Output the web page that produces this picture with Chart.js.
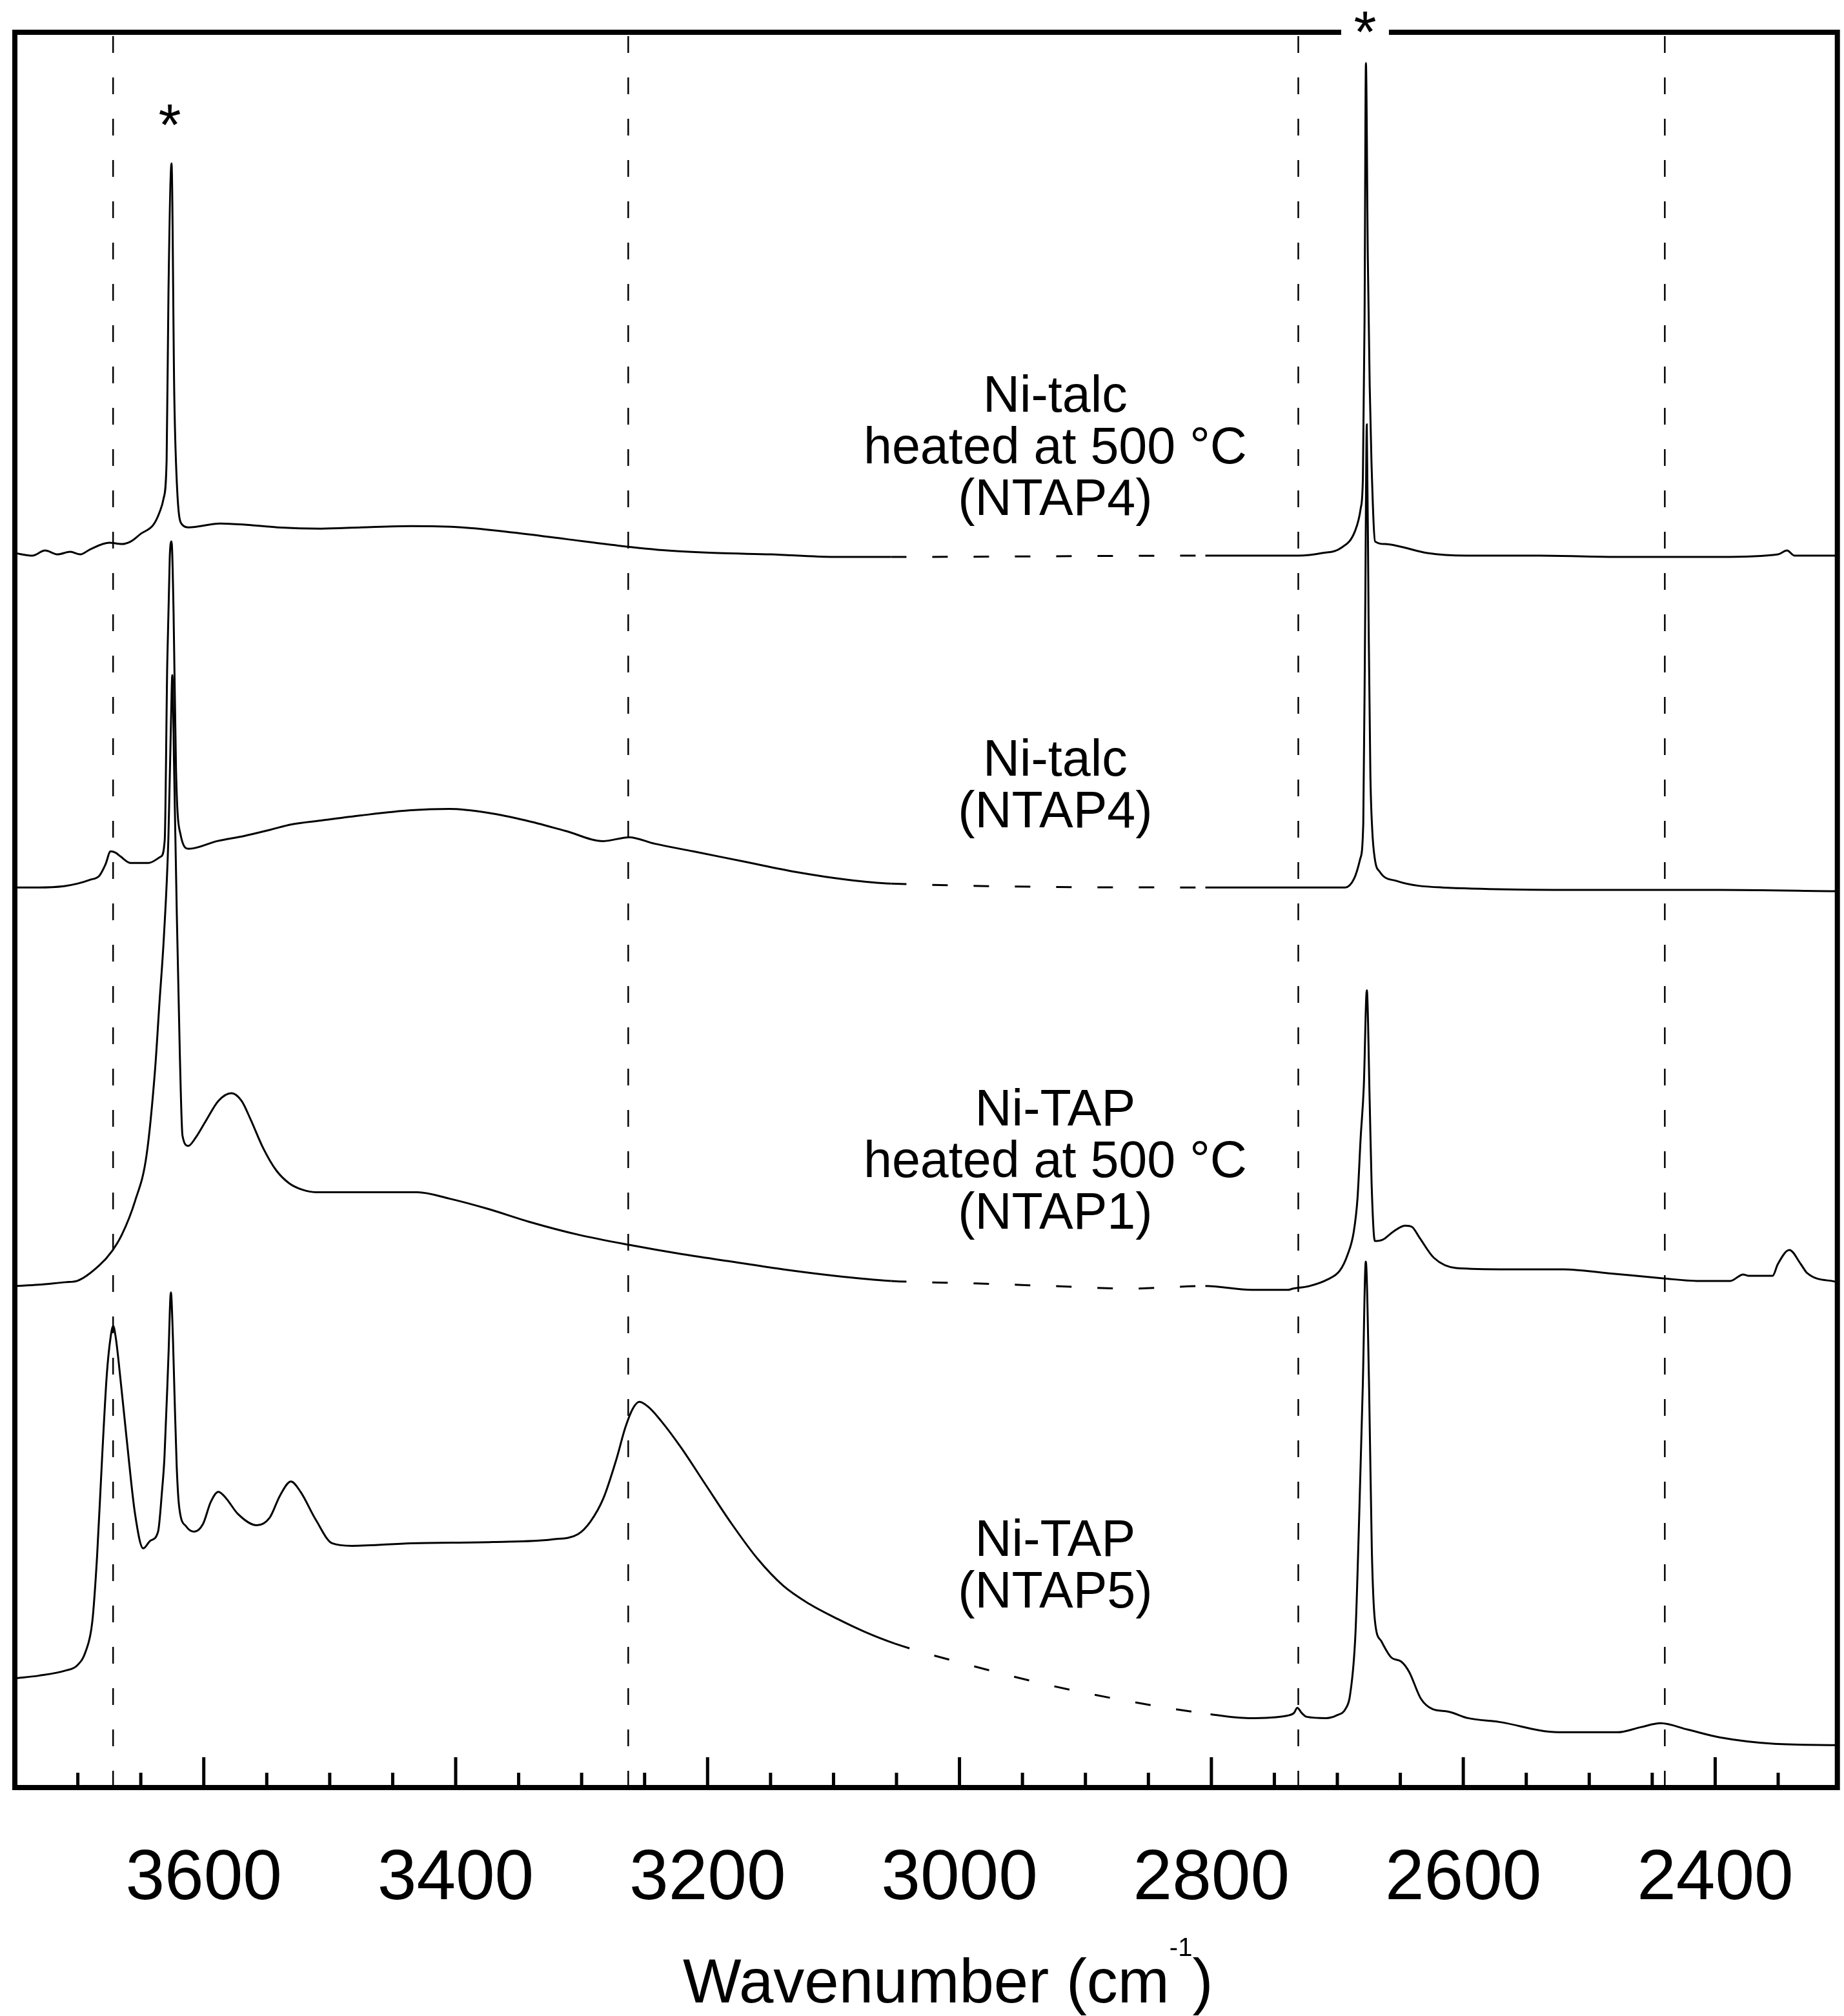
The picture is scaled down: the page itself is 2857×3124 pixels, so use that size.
<!DOCTYPE html>
<html>
<head>
<meta charset="utf-8">
<title>Ni-talc / Ni-TAP spectra</title>
<script src="https://cdn.jsdelivr.net/npm/chart.js@4.4.1/dist/chart.umd.min.js"></script>
<style>
  html, body { margin: 0; padding: 0; background: #fff; }
  canvas { display: block; }
</style>
</head>
<body>
<canvas id="myChart" width="2857" height="3124"></canvas>
<script>
// [wavenumber (cm-1), intensity (a.u., stacked offsets)]
const talcHeated = [
  [3750, 960], [3736, 958], [3726, 962], [3716, 959], [3706, 961], [3698, 959], [3690, 963],
  [3675, 968], [3665, 967], [3658, 969], [3650, 975], [3640, 982], [3635, 992], [3632, 1002],
  [3629.5, 1032], [3628, 1165], [3625.6, 1263], [3623.4, 1082], [3621, 1007], [3617, 982],
  [3612, 980], [3587, 983], [3566, 982], [3541.5, 980], [3507, 979], [3475, 980], [3435.5, 981],
  [3395, 980], [3354, 976], [3313, 971], [3272.5, 966], [3232, 962], [3191, 960], [3150, 959],
  [3099, 957], [3054.4, 957], [2804.8, 958], [2763, 958], [2731, 958], [2712, 960], [2697, 964],
  [2686, 977], [2681.4, 995], [2679.7, 1019], [2678.4, 1140], [2677.3, 1341], [2675.8, 1190],
  [2674.3, 1090], [2672.9, 1031], [2670, 969], [2662, 967], [2650, 965], [2628.5, 960],
  [2597.4, 958], [2539, 958], [2478, 957], [2396, 957], [2350, 959], [2343, 962], [2337, 958],
  [2303, 958]
];
const talc = [
  [3750, 700], [3731, 700], [3711, 701], [3700, 703], [3690, 706], [3683, 709], [3678, 718],
  [3674, 728], [3670, 727], [3666, 724], [3658, 719], [3644, 719], [3634, 724], [3631, 737],
  [3629, 874], [3627, 957], [3625.6, 969], [3624, 915], [3622, 790], [3618.4, 741], [3611.8, 730],
  [3589.4, 736], [3568, 740], [3546.6, 745], [3530.3, 749], [3507, 752], [3475, 756], [3435.5, 760],
  [3405, 761], [3374.4, 758], [3344, 752], [3313, 744], [3282.7, 736], [3262.3, 739], [3242, 734],
  [3211.3, 728], [3170.6, 720], [3129.8, 712], [3089, 706], [3054.4, 703], [2804.8, 700],
  [2742.6, 700], [2693.7, 700], [2686.6, 707], [2681.9, 722], [2679.4, 750], [2677.9, 910],
  [2676.6, 1060], [2675.2, 910], [2673.8, 790], [2672.3, 745], [2670.2, 722], [2666.2, 712],
  [2652.9, 705], [2617.2, 700], [2488, 698], [2397, 698], [2303, 697]
];
const tapHeated = [
  [3750, 390], [3731, 391], [3709.6, 393], [3700.5, 394], [3683, 406], [3673, 417], [3665, 430],
  [3654.6, 456], [3645.4, 492], [3638.7, 558], [3635.2, 610], [3631.7, 661], [3628.1, 738],
  [3626, 830], [3625, 865], [3623.5, 790], [3621.4, 679], [3619, 570], [3616.9, 507],
  [3612.3, 499], [3606.7, 505], [3598.6, 518], [3588.4, 534], [3578, 540], [3570, 534],
  [3563, 520], [3552.7, 497], [3542.5, 480], [3532.3, 470], [3522, 465], [3510.9, 463],
  [3476.3, 463], [3430.4, 463], [3405, 458], [3374.4, 450], [3341.8, 440], [3303, 430],
  [3262.3, 422], [3221.5, 415], [3180.8, 409], [3140, 403], [3099.2, 398], [3054.4, 394],
  [2987, 392], [2926, 390], [2865, 388], [2804.8, 390], [2768, 387], [2739.5, 387], [2735, 388],
  [2722.2, 390], [2708, 395], [2698, 402], [2692, 414], [2687, 432], [2684, 458],
  [2681.5, 505], [2679, 545], [2676.6, 620], [2674.3, 533], [2672.8, 470], [2670.2, 425],
  [2664.1, 426], [2656, 432], [2646.2, 437], [2640.7, 436], [2635, 428], [2623.4, 412],
  [2605.5, 404], [2564.6, 403], [2520.5, 403], [2485.3, 400], [2441.3, 396], [2414.7, 394],
  [2388, 394], [2377.8, 399], [2373.7, 398], [2354.4, 398], [2350.3, 407], [2341.1, 418],
  [2332, 407], [2326.9, 400], [2303, 393]
];
const tap = [
  [3750, 85], [3731, 87], [3709.6, 91], [3700.5, 95], [3693.7, 106], [3688.5, 129], [3684.7, 180],
  [3680.7, 257], [3677, 321], [3674, 350], [3671.9, 359], [3669.9, 350], [3667.9, 334],
  [3661.1, 270], [3654.6, 213], [3648.1, 186], [3642.4, 192], [3636.3, 199], [3633.2, 230],
  [3631.2, 257], [3628.1, 334], [3626.1, 385], [3624.5, 350], [3623.3, 308], [3621.5, 250],
  [3619.5, 218], [3613.9, 203], [3607.7, 199], [3600.6, 205], [3594.5, 222], [3588.4, 230],
  [3582.3, 225], [3573.1, 213], [3557.8, 204], [3547.6, 210], [3539.5, 227], [3530.8, 238],
  [3523.2, 230], [3510.9, 208], [3498.1, 190], [3482.4, 188], [3435.5, 190], [3370.3, 191],
  [3323.4, 193], [3303, 197], [3292.9, 207], [3282.7, 225], [3272.5, 255],
  [3265.3, 280], [3259.2, 295], [3254.1, 300], [3247, 296], [3236.8, 285], [3221.5, 265],
  [3201.2, 235], [3180.8, 205], [3160.4, 178], [3140, 157], [3119.6, 143], [3096.6, 131],
  [3075, 121], [3051.4, 112], [2987.2, 94], [2926, 79], [2864.9, 67], [2800.7, 57], [2770.5, 54],
  [2739.5, 56], [2734.4, 58], [2731.8, 62], [2728.3, 58], [2724.3, 55], [2709, 54], [2700.8, 56],
  [2693, 62], [2689.9, 72], [2685.6, 120], [2682.5, 216], [2679.8, 312], [2677.4, 409],
  [2674.8, 312], [2672.6, 184], [2670.2, 130], [2665.2, 114], [2657, 101], [2649.3, 98],
  [2643, 90], [2633.6, 69], [2624.4, 61], [2611.6, 59], [2596.3, 54], [2571.4, 51], [2524.5, 43],
  [2477.7, 43], [2458.9, 47], [2443.4, 50], [2421.6, 45], [2396.4, 39], [2352.8, 34], [2303, 33]
];

const markerLines = [3672, 3263, 2731, 2440];
const tickLabels = [3600, 3400, 3200, 3000, 2800, 2600, 2400];
const gapRange = [2800, 3055];          // region without data, joined with a dashed line
const starMarks = [{ x: 3627, y: 1301 }, { x: 2678, y: 1373 }];
const sampleLabels = [
  { lines: ['Ni-talc', 'heated at 500 °C', '(NTAP4)'], x: 2924, y: 1081 },
  { lines: ['Ni-talc', '(NTAP4)'], x: 2924, y: 798 },
  { lines: ['Ni-TAP', 'heated at 500 °C', '(NTAP1)'], x: 2924, y: 526 },
  { lines: ['Ni-TAP', '(NTAP5)'], x: 2924, y: 191 }
];

const FONT = '"Liberation Sans", Arial, Helvetica, sans-serif';
Chart.defaults.font.family = FONT;
Chart.defaults.color = '#000';

const inGap = v => v >= gapRange[0] && v <= gapRange[1];

function spectrum(points) {
  return {
    data: points.map(([x, y]) => ({ x, y })),
    borderColor: '#000',
    borderWidth: 3,
    pointRadius: 0,
    cubicInterpolationMode: 'monotone',
    segment: {
      borderDash: ctx => (inGap(ctx.p0.parsed.x) && inGap(ctx.p1.parsed.x)) ? [24, 40] : undefined
    }
  };
}

const markers = markerLines.map(w => ({
  data: [{ x: w, y: 0 }, { x: w, y: 1365 }],
  borderColor: '#000',
  borderWidth: 2.5,
  borderDash: [26, 38],
  pointRadius: 0
}));

const decor = {
  id: 'decor',
  afterDraw(chart) {
    const { ctx, chartArea: a, scales: { x, y } } = chart;
    ctx.save();
    ctx.strokeStyle = '#000';
    ctx.fillStyle = '#000';

    // inward ticks, major every 200, minor every 50
    ctx.lineWidth = 5;
    for (let v = 2350; v <= 3700; v += 50) {
      const px = x.getPixelForValue(v);
      const len = v % 200 === 0 ? 47 : 23;
      ctx.beginPath();
      ctx.moveTo(px, a.bottom);
      ctx.lineTo(px, a.bottom - len);
      ctx.stroke();
    }

    // frame, opened at the top for the asterisk
    const sx = x.getPixelForValue(starMarks[1].x);
    ctx.lineWidth = 8;
    ctx.beginPath();
    ctx.moveTo(sx - 37, a.top);
    ctx.lineTo(a.left, a.top);
    ctx.lineTo(a.left, a.bottom);
    ctx.lineTo(a.right, a.bottom);
    ctx.lineTo(a.right, a.top);
    ctx.lineTo(sx + 37, a.top);
    ctx.stroke();

    // asterisks
    ctx.font = '90px ' + FONT;
    ctx.textAlign = 'center';
    ctx.textBaseline = 'alphabetic';
    const m = ctx.measureText('*');
    const off = (m.actualBoundingBoxAscent - m.actualBoundingBoxDescent) / 2;
    starMarks.forEach(s => {
      ctx.fillText('*', x.getPixelForValue(s.x), y.getPixelForValue(s.y) + off);
    });

    // sample names
    ctx.font = '79px ' + FONT;
    ctx.textBaseline = 'middle';
    sampleLabels.forEach(l => {
      const px = x.getPixelForValue(l.x);
      const py = y.getPixelForValue(l.y);
      l.lines.forEach((t, i) => ctx.fillText(t, px, py + i * 80));
    });

    // axis title with superscript
    const main = 'Wavenumber (cm';
    ctx.textAlign = 'left';
    ctx.textBaseline = 'alphabetic';
    ctx.font = '96px ' + FONT;
    const mw = ctx.measureText(main).width;
    let tx = (a.left + a.right) / 2 - mw / 2;
    const ty = a.bottom + 333;
    ctx.fillText(main, tx, ty);
    tx += mw;
    ctx.font = '40px ' + FONT;
    ctx.fillText('-1', tx, ty - 72);
    tx += ctx.measureText('-1').width;
    ctx.font = '96px ' + FONT;
    ctx.fillText(')', tx, ty);
    ctx.restore();
  }
};

new Chart(document.getElementById('myChart').getContext('2d'), {
  type: 'line',
  data: {
    datasets: [spectrum(talcHeated), spectrum(talc), spectrum(tapHeated), spectrum(tap), ...markers]
  },
  options: {
    responsive: false,
    animation: false,
    devicePixelRatio: 1,
    layout: { padding: { left: 23, right: 5, top: 50, bottom: 0 } },
    plugins: { legend: { display: false }, tooltip: { enabled: false } },
    scales: {
      x: {
        type: 'linear',
        reverse: true,
        min: 2303,
        max: 3750,
        grid: { display: false, drawTicks: false },
        border: { display: false },
        afterFit: s => { s.height = 354; },
        afterBuildTicks: s => { s.ticks = tickLabels.map(v => ({ value: v })); },
        ticks: {
          autoSkip: false,
          maxRotation: 0,
          padding: 78,
          color: '#000',
          font: { size: 109 },
          callback: v => String(v)
        }
      },
      y: { display: false, min: 0, max: 1365 }
    }
  },
  plugins: [decor]
});
</script>
</body>
</html>
